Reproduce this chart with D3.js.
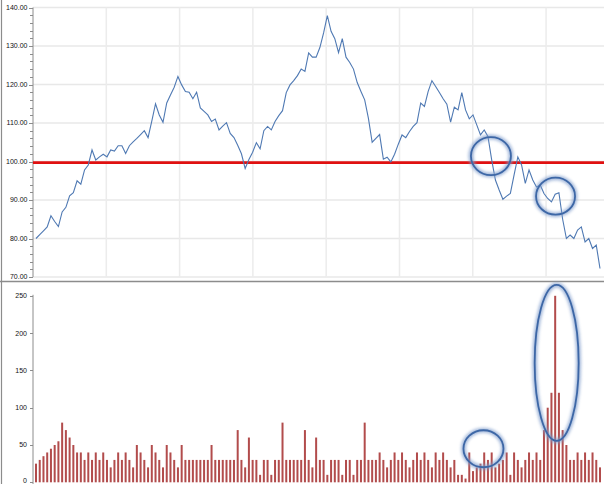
<!DOCTYPE html>
<html><head><meta charset="utf-8">
<script src="https://cdn.jsdelivr.net/npm/d3@7"></script>
<style>body{margin:0;background:#fff}svg{display:block}</style>
</head><body><svg id="c" width="604" height="484"></svg>
<script>
const priceValues = [
80.0,81.0,82.0,83.0,85.9,84.4,83.1,86.9,88.1,91.1,
91.9,95.0,94.1,97.8,99.1,103.0,100.4,101.2,101.9,101.2,
103.0,102.7,104.1,104.1,102.1,104.1,105.1,106.0,107.0,108.0,
106.2,110.5,115.0,112.1,110.2,115.2,117.3,119.3,122.1,119.9,
118.2,118.0,116.3,118.0,113.9,113.0,112.1,110.4,111.0,108.2,
109.2,110.1,107.3,106.2,104.2,102.0,98.2,100.5,102.4,104.9,
103.3,108.0,109.1,108.2,110.4,111.9,113.2,117.9,119.9,121.0,
122.3,124.0,123.4,128.2,127.1,127.1,129.6,133.4,137.9,133.8,
131.9,128.3,131.9,127.1,125.7,124.0,120.5,118.2,116.0,111.2,
105.0,106.0,107.0,100.6,101.1,99.9,101.9,104.5,106.9,106.2,
107.8,109.1,110.1,115.2,114.3,118.2,121.0,119.5,117.9,116.3,
114.9,110.2,114.1,113.4,117.9,113.4,111.1,112.1,109.5,106.9,
108.2,106.5,100.4,95.2,92.6,90.2,91.0,91.7,96.5,101.2,
99.1,94.3,97.8,95.2,93.4,93.9,91.7,90.4,89.5,91.5,
91.9,85.0,80.0,80.9,80.0,82.2,83.0,79.1,80.0,77.4,
78.3,72.2
];
const volumeValues = [
25,30,35,40,45,50,55,80,70,60,
50,40,40,30,40,30,40,30,40,30,
20,30,40,30,40,30,20,50,40,30,
20,50,40,30,20,50,40,30,20,50,
30,30,30,30,30,30,30,50,30,30,
30,30,30,30,70,30,20,60,30,30,
10,30,30,10,30,30,80,30,30,30,
30,30,70,30,20,60,30,30,10,30,
30,30,10,30,30,10,30,30,80,30,
30,30,40,30,20,30,40,30,40,30,
20,30,40,30,40,30,20,40,30,40,
30,20,30,10,10,5,40,15,20,25,
40,30,40,20,25,30,40,10,40,30,
20,30,40,30,40,30,70,100,120,250,
120,70,50,30,30,40,30,40,30,40,
30,20
];
const priceTicks = [70,80,90,100,110,120,130,140];
const priceMinorTicks = d3.range(70, 140.01, 2);
const volumeTicks = [0,50,100,150,200,250];
const gridColumns = [1,2,3,4,5,6,7];
const referenceLevel = 99.7;
const annotations = [
  {panel:"price", i:121.8, v:101.4, rx:20, ry:19},
  {panel:"price", i:139.1, v:91.0, rx:19.5, ry:18.5},
  {panel:"volume", i:119.8, v:45, rx:20, ry:18.5},
  {panel:"volume", i:139.4, v:160, rx:22, ry:78}
];

const svg = d3.select("#c");
const W = 604, H = 484;
const axisX = 33;
const N = priceValues.length;

const x = d3.scaleLinear().domain([0, N-1]).range([36, 600]);
const gx = d3.scaleLinear().domain([0, 1]).range([axisX, axisX + 73.3]);
const yP = d3.scaleLinear().domain([70, 140]).range([277, 7.5]);
const yV = d3.scaleLinear().domain([0, 250]).range([482.3, 295.8]);

const defs = svg.append("defs");
const f = defs.append("filter").attr("id","glow").attr("x","-50%").attr("y","-50%").attr("width","200%").attr("height","200%");
f.append("feGaussianBlur").attr("stdDeviation", 1.6);

// outer frame lines
svg.append("line").attr("x1",1.5).attr("x2",1.5).attr("y1",0).attr("y2",H)
  .attr("stroke","#8c8c8c").attr("stroke-width",1.2);
svg.append("line").attr("x1",0).attr("x2",W).attr("y1",281.5).attr("y2",281.5)
  .attr("stroke","#8c8c8c").attr("stroke-width",1.5);

// price gridlines
const gP = svg.append("g");
gP.selectAll("line.h").data(priceTicks).join("line")
  .attr("x1", axisX).attr("x2", W)
  .attr("y1", d => yP(d)).attr("y2", d => yP(d))
  .attr("stroke", "#e8e8e8").attr("stroke-width", 1.5);
gP.selectAll("line.v").data(gridColumns).join("line")
  .attr("x1", d => gx(d)).attr("x2", d => gx(d))
  .attr("y1", yP(140)).attr("y2", yP(70))
  .attr("stroke", "#ececec").attr("stroke-width", 1.5);

// price axis
const font = "'Liberation Sans', Arial, sans-serif";
svg.append("line").attr("x1",axisX).attr("x2",axisX).attr("y1",yP(140)).attr("y2",yP(70))
  .attr("stroke","#8c8c8c").attr("stroke-width",1);
svg.append("g").selectAll("line").data(priceMinorTicks).join("line")
  .attr("x1", d => priceTicks.includes(d) ? axisX-4 : axisX-3).attr("x2", axisX)
  .attr("y1", d => Math.round(yP(d))+0.5).attr("y2", d => Math.round(yP(d))+0.5)
  .attr("stroke","#8c8c8c").attr("stroke-width",1);
svg.append("g").selectAll("text").data(priceTicks).join("text")
  .attr("x", 27.5).attr("y", d => yP(d)).attr("dy","0.35em")
  .attr("text-anchor","end").attr("font-family",font).attr("font-size",7)
  .attr("fill","#111").text(d => d3.format(".2f")(d));

// reference line
svg.append("line").attr("x1",axisX).attr("x2",W)
  .attr("y1",yP(referenceLevel)).attr("y2",yP(referenceLevel))
  .attr("stroke","#e01010").attr("stroke-width",2.6);

// price line
svg.append("path").datum(priceValues)
  .attr("d", d3.line().x((d,i) => x(i)).y(d => yP(d)))
  .attr("fill","none").attr("stroke","#4f79b3").attr("stroke-width",1.1)
  .attr("stroke-linejoin","miter");

// volume axis
svg.append("line").attr("x1",axisX).attr("x2",axisX).attr("y1",yV(250)-1).attr("y2",H)
  .attr("stroke","#8c8c8c").attr("stroke-width",1);
svg.append("g").selectAll("line").data(volumeTicks).join("line")
  .attr("x1", axisX-3).attr("x2", axisX)
  .attr("y1", d => Math.round(yV(d))+0.5).attr("y2", d => Math.round(yV(d))+0.5)
  .attr("stroke","#8c8c8c").attr("stroke-width",1);
svg.append("g").selectAll("text").data(volumeTicks).join("text")
  .attr("x", 27).attr("y", d => Math.min(yV(d), H - 3.5)).attr("dy","0.35em")
  .attr("text-anchor","end").attr("font-family",font).attr("font-size",7)
  .attr("fill","#111").text(d => d3.format("d")(d));

// volume bars
svg.append("g").selectAll("rect").data(volumeValues).join("rect")
  .attr("x", (d,i) => x(i) - 1).attr("width", 2)
  .attr("y", d => yV(d)).attr("height", d => yV(0) - yV(d))
  .attr("fill","#b24c4c");

// annotation ellipses
const ann = svg.append("g");
annotations.forEach(a => {
  const cx = x(a.i), cy = a.panel === "price" ? yP(a.v) : yV(a.v);
  ann.append("ellipse").attr("cx",cx).attr("cy",cy).attr("rx",a.rx).attr("ry",a.ry)
    .attr("fill","none").attr("stroke","#7f9ccc").attr("stroke-width",5).attr("opacity",0.7)
    .attr("filter","url(#glow)");
  ann.append("ellipse").attr("cx",cx).attr("cy",cy).attr("rx",a.rx).attr("ry",a.ry)
    .attr("fill","none").attr("stroke","#3d67a6").attr("stroke-width",1.8);
});
</script>
</body></html>
